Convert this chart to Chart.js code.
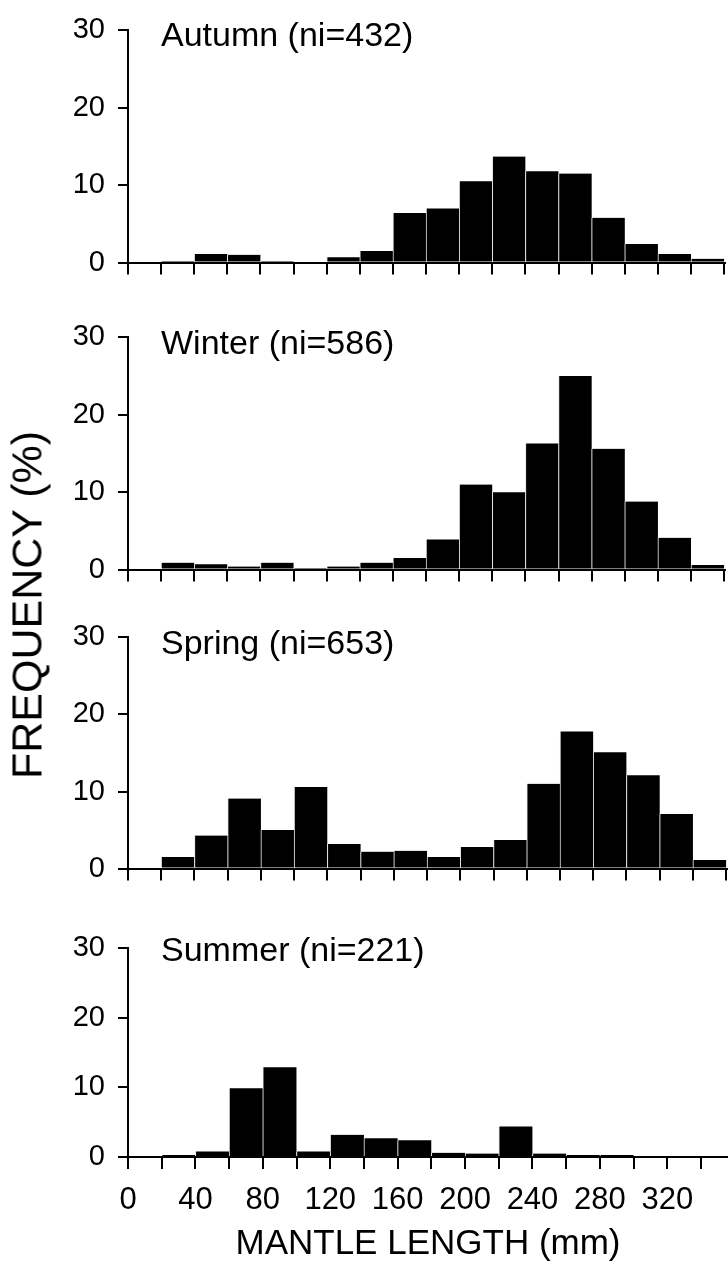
<!DOCTYPE html>
<html>
<head>
<meta charset="utf-8">
<title>Mantle length frequency by season</title>
<script src="https://cdn.jsdelivr.net/npm/chart.js@4.4.1/dist/chart.umd.min.js"></script>
<style>
	html, body {
		margin: 0;
		padding: 0;
		background: #fff;
	}
	#wrap {
		position: relative;
		width: 728px;
		height: 1265px;
		overflow: hidden;
	}
	#wrap canvas {
		position: absolute;
		left: 0;
	}
	#yTitle {
		position: absolute;
		left: 27px;
		top: 605px;
		transform: translate(-50%, -50%) rotate(-90deg);
		font-family: "Liberation Sans", Arial, sans-serif;
		font-size: 43px;
		line-height: 1;
		white-space: nowrap;
		color: #000;
	}
</style>
</head>
<body>
<div id="wrap">
	<canvas id="autumnChart" width="728" height="293" style="top:0px"></canvas>
	<canvas id="winterChart" width="728" height="293" style="top:307px"></canvas>
	<canvas id="springChart" width="728" height="292" style="top:607px"></canvas>
	<canvas id="summerChart" width="728" height="347" style="top:918px"></canvas>
	<div id="yTitle">FREQUENCY (%)</div>
</div>
<script>
// lower edge of each 20 mm size class
const binStarts = [20, 40, 60, 80, 100, 120, 140, 160, 180, 200, 220, 240, 260, 280, 300, 320, 340];

// frequency (%) per size class
const autumnFreq = [0.2, 1.1, 1.0, 0.2, 0, 0.7, 1.5, 6.4, 7.0, 10.5, 13.7, 11.8, 11.5, 5.8, 2.4, 1.1, 0.5];
const winterFreq = [0.9, 0.7, 0.4, 0.9, 0.2, 0.4, 0.9, 1.5, 3.9, 11.0, 10.0, 16.3, 25.0, 15.6, 8.8, 4.1, 0.6];
const springFreq = [1.5, 4.3, 9.1, 5.0, 10.6, 3.2, 2.2, 2.3, 1.5, 2.8, 3.7, 11.0, 17.8, 15.1, 12.1, 7.1, 1.1];
const summerFreq = [0.3, 0.8, 9.9, 12.9, 0.8, 3.2, 2.7, 2.4, 0.6, 0.5, 4.4, 0.5, 0.3, 0.3, 0, 0, 0];

const seasonTitles = ["Autumn (ni=432)", "Winter (ni=586)", "Spring (ni=653)", "Summer (ni=221)"];
const yTicks = [0, 10, 20, 30];
const xTickLabels = [0, 40, 80, 120, 160, 200, 240, 280, 320];
const xAxisTitle = "MANTLE LENGTH (mm)";

document.addEventListener("DOMContentLoaded", function () {
	const fontFamily = "'Liberation Sans', Arial, sans-serif";
	const binWidth = 20;
	const lastEdge = binStarts[binStarts.length - 1] + binWidth;

	// --- Season label drawn inside each panel ---
	const panelTitlePlugin = {
		id: "panelTitle",
		afterDraw(chart, args, opts) {
			const { ctx, chartArea } = chart;
			ctx.save();
			ctx.font = opts.size + "px " + fontFamily;
			ctx.fillStyle = "#000";
			ctx.textBaseline = "alphabetic";
			ctx.textAlign = "left";
			ctx.fillText(opts.text, chartArea.left + 33, chartArea.top + opts.offset);
			ctx.restore();
		},
	};

	// panel layout (sizes only, the values come from the arrays above)
	// the bottom panel is a little wider, so its last class is cut by the edge
	const panels = [
		{ id: "autumnChart", values: autumnFreq, title: seasonTitles[0], axisHeight: 20, titleOffset: 15.5, xMax: 360.5, padRight: 3, bottom: false },
		{ id: "winterChart", values: winterFreq, title: seasonTitles[1], axisHeight: 20, titleOffset: 16.3, xMax: 360.5, padRight: 3, bottom: false },
		{ id: "springChart", values: springFreq, title: seasonTitles[2], axisHeight: 20, titleOffset: 16.7, xMax: 360.5, padRight: 1, bottom: false },
		{ id: "summerChart", values: summerFreq, title: seasonTitles[3], axisHeight: 108, titleOffset: 12.5, xMax: 356, padRight: 0, bottom: true },
	];

	panels.forEach(function (panel) {
		const ctx = document.getElementById(panel.id);
		const points = binStarts.map((start, i) => ({ x: start + binWidth / 2, y: panel.values[i] }));
		const edges = [0].concat(binStarts, [lastEdge]).filter((v) => v <= panel.xMax);

		new Chart(ctx, {
			type: "bar",
			data: {
				datasets: [
					{
						data: points,
						backgroundColor: "#000",
						borderColor: "#e6e6e6",
						borderWidth: { left: 1, right: 0, top: 0, bottom: 0 },
						borderSkipped: "start",
						barPercentage: 1,
						categoryPercentage: 1,
					},
				],
			},
			options: {
				responsive: false,
				devicePixelRatio: 1,
				animation: false,
				events: [],
				layout: {
					padding: { top: 24, left: 0, right: panel.padRight, bottom: 0 },
				},
				plugins: {
					legend: { display: false },
					tooltip: { enabled: false },
					panelTitle: {
						text: panel.title,
						size: 34,
						offset: panel.titleOffset,
					},
				},
				scales: {
					x: {
						type: "linear",
						offset: false,
						min: 0,
						max: panel.xMax,
						afterBuildTicks: function (scale) {
							scale.ticks = edges.map((v) => ({ value: v }));
						},
						afterFit: function (scale) {
							scale.height = panel.axisHeight;
						},
						ticks: {
							display: panel.bottom,
							autoSkip: false,
							maxRotation: 0,
							padding: 13,
							color: "#000",
							font: { family: fontFamily, size: 31 },
							callback: function (value) {
								return xTickLabels.includes(value) ? String(value) : "";
							},
						},
						grid: {
							offset: false,
							drawOnChartArea: false,
							drawTicks: true,
							tickLength: 12,
							lineWidth: 2,
							color: "#000",
						},
						border: { display: true, color: "#000", width: 2 },
						title: {
							display: panel.bottom,
							text: xAxisTitle,
							color: "#000",
							font: { family: fontFamily, size: 35 },
							padding: { top: 0, bottom: 0 },
						},
					},
					y: {
						min: 0,
						max: 30,
						afterBuildTicks: function (scale) {
							scale.ticks = yTicks.map((v) => ({ value: v }));
						},
						afterFit: function (scale) {
							scale.width = 128;
						},
						ticks: {
							padding: 13,
							color: "#000",
							font: { family: fontFamily, size: 29 },
						},
						grid: {
							drawOnChartArea: false,
							drawTicks: true,
							tickLength: 10,
							lineWidth: 2,
							color: "#000",
						},
						border: { display: true, color: "#000", width: 2 },
					},
				},
			},
			plugins: [panelTitlePlugin],
		});
	});
});
</script>
</body>
</html>
